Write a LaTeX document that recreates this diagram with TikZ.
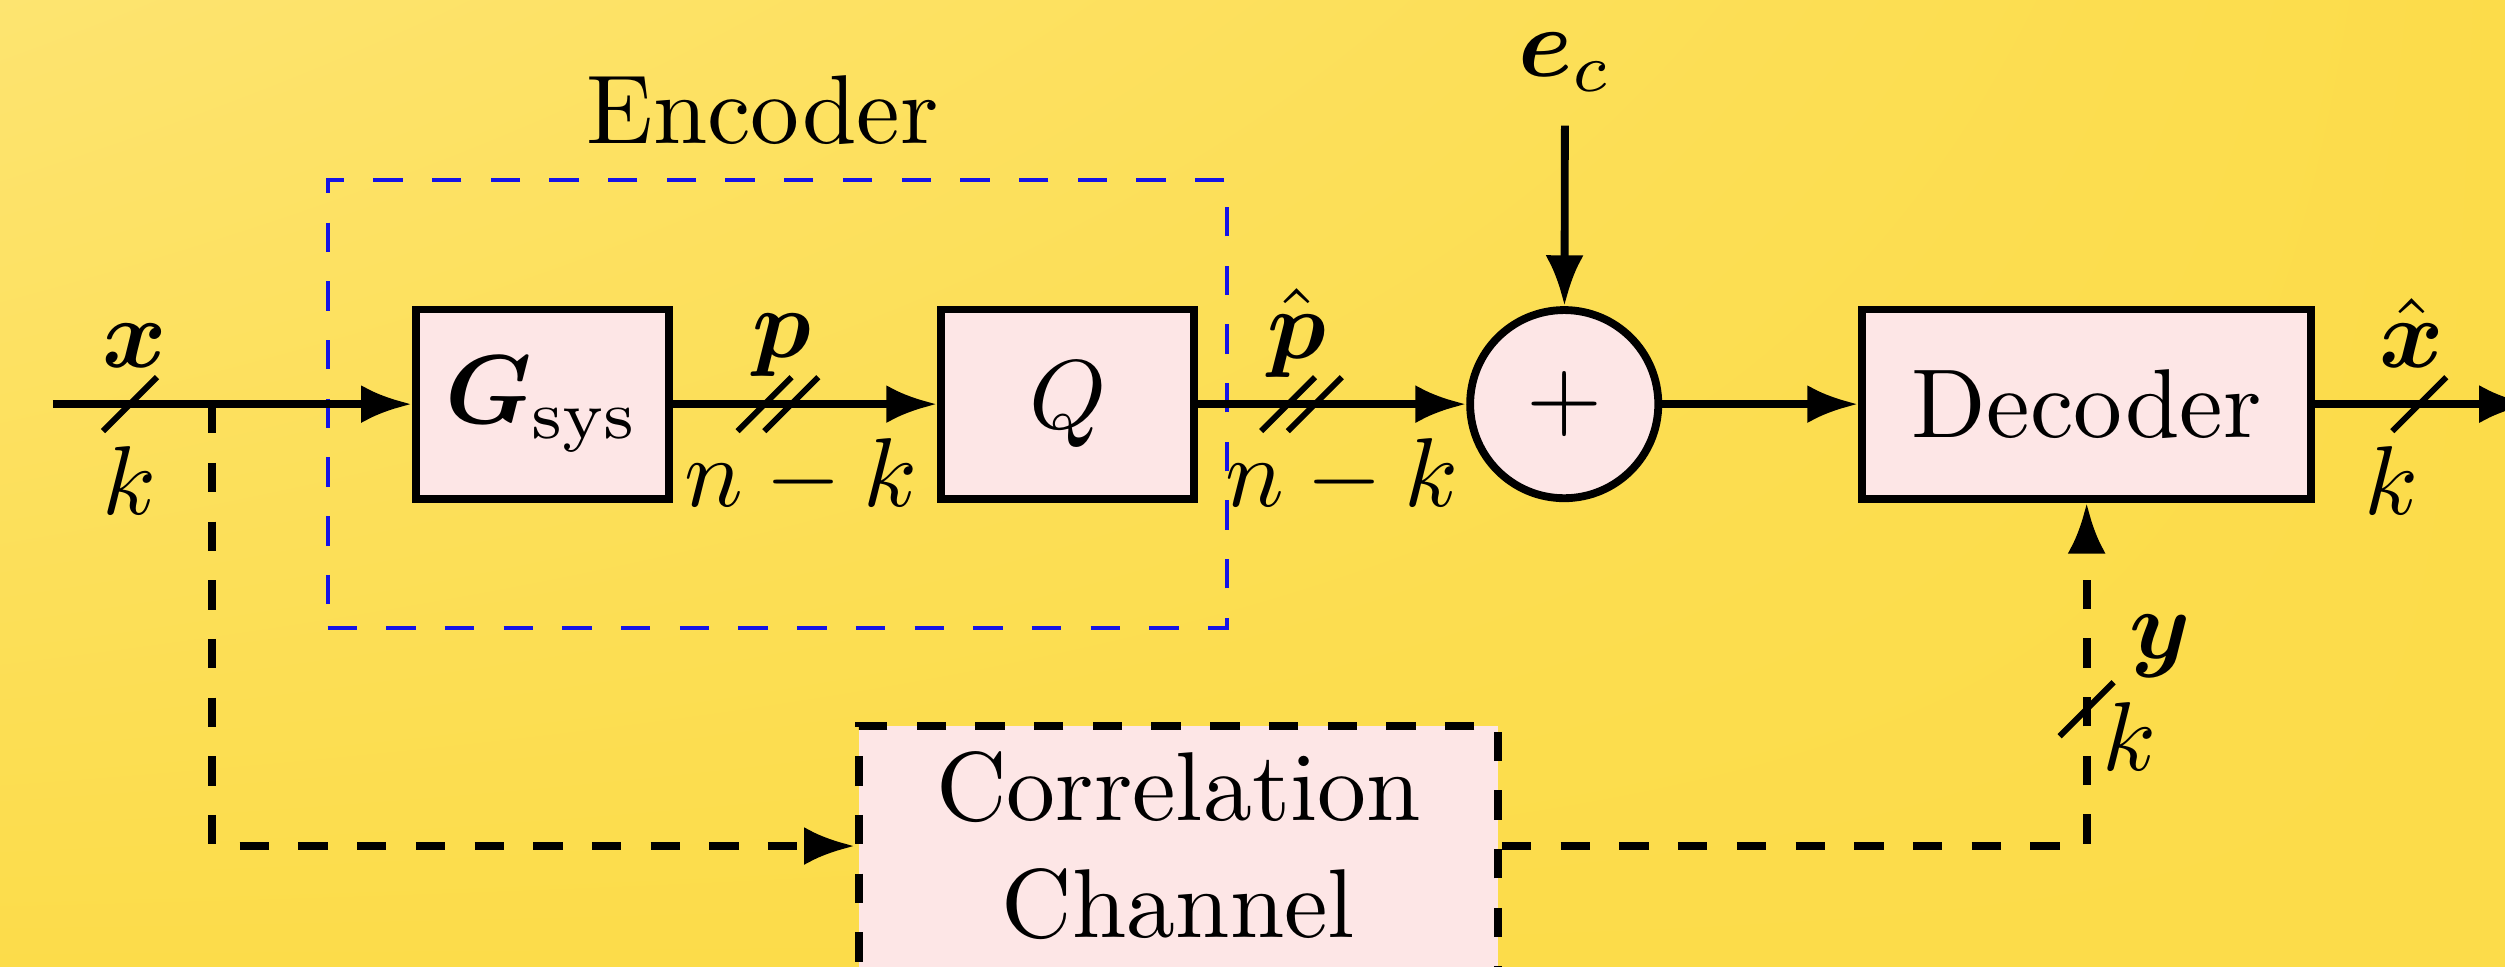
\documentclass[tikz,border=0pt]{standalone}
\usepackage{amsmath, amssymb}
\usepackage{tikz}
\usetikzlibrary{arrows.meta, calc, positioning, shadings}
\definecolor{bgyellow}{RGB}{252, 220, 74}
\definecolor{bglight}{RGB}{253, 228, 112}
\definecolor{boxpink}{RGB}{253, 230, 230}
\definecolor{encblue}{RGB}{20, 20, 230}
\newcommand{\busslash}[1]{\draw[semithick] ($(#1)+(-0.097,-0.097)$) -- ++(0.194,0.194);}

\begin{document}
\begin{tikzpicture}[
  block/.style={draw, thick, fill=boxpink, minimum width=0.91cm,
                minimum height=0.68cm, inner sep=0pt},
  sumnode/.style={draw, thick, circle, fill=boxpink,
                  minimum size=0.676cm, inner sep=0pt},
  arr/.style={-{Latex[length=5.2pt, width=3.9pt]}, thick},
  darr/.style={arr, dashed}
]
  \useasboundingbox (0,-2.019) rectangle (9,1.452);
  \clip (0,-2.019) rectangle (9,1.452);
  \shade[upper left=bglight, upper right=bgyellow,
         lower left=bgyellow, lower right=bgyellow]
    (0,-2.019) rectangle (9,1.452);

  % encoder frame
  \node[draw=encblue, dashed, minimum width=3.232cm,
        minimum height=1.608cm] (enc) at (2.793,0) {};
  \node[anchor=base] (enclbl) at (2.740,0.938) {Encoder};

  % blocks
  \node[block] (gsys)  at (1.949,0) {$\boldsymbol{G}_{\mathrm{sys}}$};
  \node[block] (quant) at (3.836,0) {$Q$};
  \node[sumnode] (sum) at (5.620,0) {$+$};
  \node[block, minimum width=1.614cm] (dec) at (7.497,0) {Decoder};
  \node[block, dashed, minimum width=2.297cm, minimum height=0pt,
        inner ysep=2.6pt, text depth=0.35cm, align=center,
        anchor=north] (corr) at (4.234,-1.1425) {Correlation\\Channel};
  \node (ec) at (5.623,1.229) {$\boldsymbol{e}_c$};

  \coordinate (xin)  at (0.19,0);
  \coordinate (xout) at (9.09,0);
  \coordinate (tap)  at (0.762,0);

  % connections
  \draw[arr] (xin)   -- (gsys);
  \draw[arr] (gsys)  -- (quant);
  \draw[arr] (quant) -- (sum);
  \draw[arr] (ec)    -- (sum);
  \draw[arr] (sum)   -- (dec);
  \draw[arr] (dec)   -- (xout);
  \draw[darr] (tap) |- ([yshift=0.17cm]corr.west);
  \draw[darr] ([yshift=0.17cm]corr.east) -| (dec.south);

  % bus widths
  \coordinate (xbus)  at (0.467,0);
  \coordinate (pbusa) at (2.747,0);
  \coordinate (pbusb) at (2.843,0);
  \coordinate (qbusa) at (4.628,0);
  \coordinate (qbusb) at (4.724,0);
  \coordinate (xhbus) at (8.692,0);
  \coordinate (ybus)  at (7.497,-1.096);
  \busslash{xbus}
  \busslash{pbusa}
  \busslash{pbusb}
  \busslash{qbusa}
  \busslash{qbusb}
  \busslash{xhbus}
  \busslash{ybus}

  % labels
  \node (xlbl)  at (0.485,0.210)  {$\boldsymbol{x}$};
  \node (xk)    at (0.465,-0.273) {$k$};
  \node (plbl)  at (2.810,0.212)  {$\boldsymbol{p}$};
  \node (pnk)   at (2.878,-0.260) {$n-k$};
  \node (phlbl) at (4.660,0.255)  {$\hat{\boldsymbol{p}}$};
  \node (phnk)  at (4.822,-0.260) {$n-k$};
  \node (xhlbl) at (8.666,0.255)  {$\hat{\boldsymbol{x}}$};
  \node (xhk)   at (8.593,-0.276) {$k$};
  \node (ylbl)  at (7.761,-0.871) {$\boldsymbol{y}$};
  \node (yk)    at (7.651,-1.196) {$k$};
\end{tikzpicture}
\end{document}
